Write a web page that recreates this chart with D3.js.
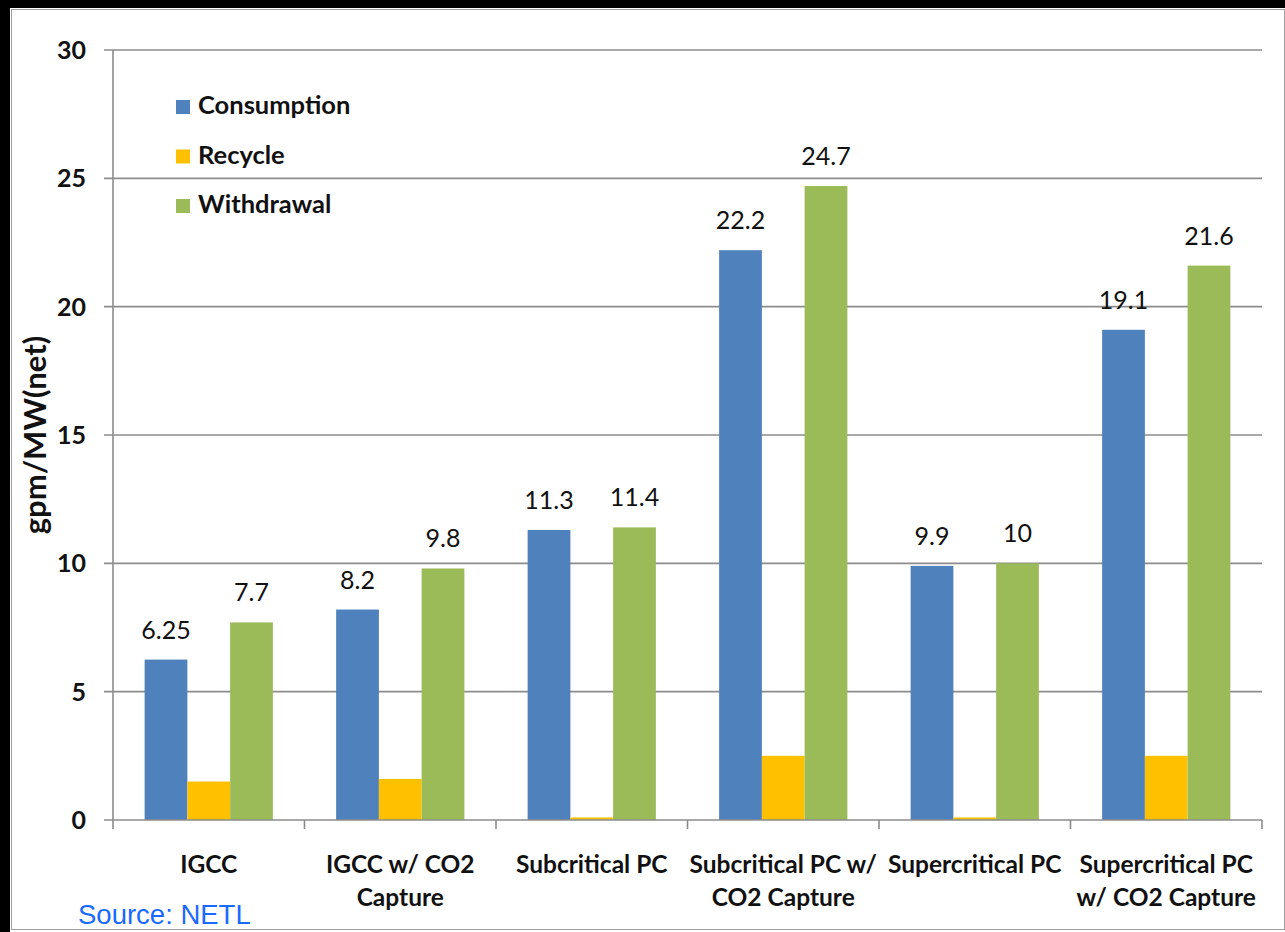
<!DOCTYPE html>
<html>
<head>
<meta charset="utf-8">
<script src="https://cdn.jsdelivr.net/npm/d3@7"></script>
<style>
  html, body { margin: 0; padding: 0; background: #000; }
  svg { display: block; }
</style>
</head>
<body>
<script>
'use strict';

var categories = [
  ['IGCC'],
  ['IGCC w/ CO2', 'Capture'],
  ['Subcritical PC'],
  ['Subcritical PC w/', 'CO2 Capture'],
  ['Supercritical PC'],
  ['Supercritical PC', 'w/ CO2 Capture']
];
var seriesNames = ['Consumption', 'Recycle', 'Withdrawal'];
var consumption = [6.25, 8.2, 11.3, 22.2, 9.9, 19.1];
var recycle = [1.5, 1.6, 0.1, 2.5, 0.1, 2.5];
var withdrawal = [7.7, 9.8, 11.4, 24.7, 10, 21.6];
var yTicks = [0, 5, 10, 15, 20, 25, 30];
var seriesColors = ['#4f81bd', '#ffc000', '#9bbb59'];
var showLabel = [true, false, true];

function drawChart() {
  var width = 1285;
  var height = 932;
  var font = 'Lato, "Open Sans", sans-serif';

  var svg = d3.select('body').append('svg')
    .attr('width', width)
    .attr('height', height);

  svg.append('rect')
    .attr('width', width).attr('height', height)
    .attr('fill', '#000');

  svg.append('rect')
    .attr('x', 10).attr('y', 8)
    .attr('width', width - 10).attr('height', height - 8)
    .attr('fill', '#fff');

  svg.append('rect')
    .attr('x', 11.5).attr('y', 9.5)
    .attr('width', width - 12).attr('height', height - 12)
    .attr('fill', 'none')
    .attr('stroke', '#a0a0a0')
    .attr('stroke-width', 1);

  var plotLeft = 113;
  var plotRight = 1262;
  var plotTop = 50;
  var plotBottom = 820;

  var catKeys = categories.map(function(d, i) { return i; });
  var x = d3.scaleBand().domain(catKeys).range([plotLeft, plotRight]).padding(0);
  var xs = d3.scaleBand().domain(seriesNames).range([0, x.bandwidth()])
    .paddingInner(0).paddingOuter(0.74);
  var y = d3.scaleLinear().domain([0, 30]).range([plotBottom, plotTop]);

  // gridlines
  svg.append('g').selectAll('line')
    .data(yTicks.slice(1))
    .enter().append('line')
    .attr('x1', plotLeft - 9).attr('x2', plotRight)
    .attr('y1', function(d) { return y(d); })
    .attr('y2', function(d) { return y(d); })
    .attr('stroke', '#8c8c8c')
    .attr('stroke-width', 1.6);

  var series = [consumption, recycle, withdrawal];

  var groups = svg.append('g').selectAll('g')
    .data(catKeys)
    .enter().append('g')
    .attr('transform', function(i) { return 'translate(' + x(i) + ',0)'; });

  groups.selectAll('rect')
    .data(function(i) {
      return seriesNames.map(function(s, k) { return { s: s, k: k, v: series[k][i] }; });
    })
    .enter().append('rect')
    .attr('x', function(d) { return xs(d.s); })
    .attr('width', xs.bandwidth())
    .attr('y', function(d) { return y(d.v); })
    .attr('height', function(d) { return y(0) - y(d.v); })
    .attr('fill', function(d) { return seriesColors[d.k]; });

  groups.selectAll('text')
    .data(function(i) {
      return seriesNames.map(function(s, k) { return { s: s, k: k, v: series[k][i] }; })
        .filter(function(d) { return showLabel[d.k]; });
    })
    .enter().append('text')
    .attr('x', function(d) { return xs(d.s) + xs.bandwidth() / 2; })
    .attr('y', function(d) { return y(d.v) - 21; })
    .attr('text-anchor', 'middle')
    .style('font-family', font)
    .style('font-size', '25px')
    .style('fill', '#111')
    .text(function(d) { return String(d.v); });

  // axes
  var axisColor = '#8c8c8c';
  svg.append('line')
    .attr('x1', plotLeft).attr('x2', plotLeft)
    .attr('y1', plotTop).attr('y2', plotBottom)
    .attr('stroke', axisColor).attr('stroke-width', 1.6);
  svg.append('line')
    .attr('x1', plotLeft - 9).attr('x2', plotRight)
    .attr('y1', plotBottom).attr('y2', plotBottom)
    .attr('stroke', axisColor).attr('stroke-width', 1.6);

  svg.append('g').selectAll('line')
    .data(catKeys.concat([categories.length]))
    .enter().append('line')
    .attr('x1', function(i) { return plotLeft + i * x.step(); })
    .attr('x2', function(i) { return plotLeft + i * x.step(); })
    .attr('y1', plotBottom).attr('y2', plotBottom + 9)
    .attr('stroke', axisColor).attr('stroke-width', 1.6);

  svg.append('g').selectAll('text')
    .data(yTicks)
    .enter().append('text')
    .attr('x', 86)
    .attr('y', function(d) { return y(d) + 9; })
    .attr('text-anchor', 'end')
    .style('font-family', font)
    .style('font-size', '25px')
    .style('font-weight', 'bold')
    .style('fill', '#111')
    .text(function(d) { return d; });

  svg.append('text')
    .attr('transform', 'translate(46,' + 435 + ') rotate(-90)')
    .attr('text-anchor', 'middle')
    .style('font-family', font)
    .style('font-size', '31px')
    .style('font-weight', 'bold')
    .style('fill', '#111')
    .text('gpm/MW(net)');

  var catLabels = svg.append('g').selectAll('text')
    .data(catKeys)
    .enter().append('text')
    .attr('text-anchor', 'middle')
    .style('font-family', font)
    .style('font-size', '24.5px')
    .style('font-weight', 'bold')
    .style('fill', '#111');

  catLabels.selectAll('tspan')
    .data(function(i) { return categories[i].map(function(t) { return { t: t, i: i }; }); })
    .enter().append('tspan')
    .attr('x', function(d) { return x(d.i) + x.bandwidth() / 2; })
    .attr('y', function(d, j) { return 873 + j * 33; })
    .text(function(d) { return d.t; });

  // legend
  var legend = svg.append('g').selectAll('g')
    .data(seriesNames)
    .enter().append('g')
    .attr('transform', function(d, i) { return 'translate(176,' + (114 + i * 49.5) + ')'; });

  legend.append('rect')
    .attr('x', 0).attr('y', -14)
    .attr('width', 14).attr('height', 14)
    .attr('fill', function(d, i) { return seriesColors[i]; });

  legend.append('text')
    .attr('x', 22).attr('y', 0)
    .style('font-family', font)
    .style('font-size', '25.5px')
    .style('font-weight', 'bold')
    .style('fill', '#111')
    .text(function(d) { return d; });

  svg.append('text')
    .attr('x', 78).attr('y', 924)
    .style('font-family', '"Liberation Sans", Arial, sans-serif')
    .style('font-size', '27.5px')
    .style('fill', '#1a6aff')
    .text('Source: NETL');
}

drawChart();
</script>
</body>
</html>
